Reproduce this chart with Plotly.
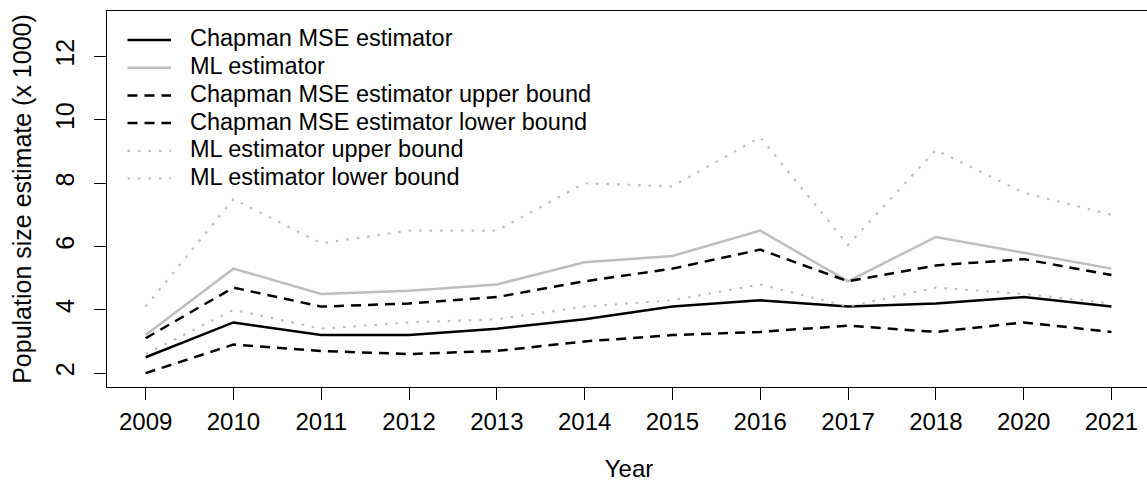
import plotly.graph_objects as go

years = ["2009", "2010", "2011", "2012", "2013", "2014", "2015", "2016", "2017", "2018", "2020", "2021"]
chapman = [2.5, 3.6, 3.2, 3.2, 3.4, 3.7, 4.1, 4.3, 4.1, 4.2, 4.4, 4.1]
ml = [3.2, 5.3, 4.5, 4.6, 4.8, 5.5, 5.7, 6.5, 4.9, 6.3, 5.8, 5.3]
chapman_upper = [3.1, 4.7, 4.1, 4.2, 4.4, 4.9, 5.3, 5.9, 4.9, 5.4, 5.6, 5.1]
chapman_lower = [2.0, 2.9, 2.7, 2.6, 2.7, 3.0, 3.2, 3.3, 3.5, 3.3, 3.6, 3.3]
ml_upper = [4.1, 7.5, 6.1, 6.5, 6.5, 8.0, 7.9, 9.45, 6.05, 9.05, 7.7, 7.0]
ml_lower = [2.6, 4.0, 3.4, 3.6, 3.7, 4.1, 4.3, 4.8, 4.1, 4.7, 4.5, 4.2]

y_ticks = [2, 4, 6, 8, 10, 12]

FONT = "Liberation Sans, Arial, Helvetica, sans-serif"
GRAY = "#BEBEBE"
DASH = "10px,7px"
DOT = "2.5px,8px"

series = [
    ("Chapman MSE estimator", chapman, dict(color="black", width=2.5, dash="solid")),
    ("ML estimator", ml, dict(color=GRAY, width=2.5, dash="solid")),
    ("Chapman MSE estimator upper bound", chapman_upper, dict(color="black", width=2.5, dash=DASH)),
    ("Chapman MSE estimator lower bound", chapman_lower, dict(color="black", width=2.5, dash=DASH)),
    ("ML estimator upper bound", ml_upper, dict(color=GRAY, width=2.2, dash=DOT)),
    ("ML estimator lower bound", ml_lower, dict(color=GRAY, width=2.2, dash=DOT)),
]

# the plot box of the original runs slightly past the right edge of the window
W, H = 1151, 482
ML_, MR_, MT_, MB_ = 107, 0, 11, 95
PW = W - ML_ - MR_
PH = H - MT_ - MB_


def fx(px):
    return (px - ML_) / PW


def fy(py):
    return (H - MB_ - py) / PH


fig = go.Figure()
for name, vals, line in series:
    fig.add_trace(go.Scatter(x=years, y=vals, mode="lines", name=name, line=line,
                             showlegend=False))

# manual legend (R style) in the top-left corner of the plot box
shapes = []
annotations = []
for i, (name, vals, line) in enumerate(series):
    yc = 40 + 27.7 * i
    shapes.append(dict(type="line", xref="paper", yref="paper",
                       x0=fx(127.5), x1=fx(171), y0=fy(yc), y1=fy(yc),
                       line=line))
    annotations.append(dict(xref="paper", yref="paper", x=fx(188), y=fy(yc - 1.5),
                            xanchor="left", yanchor="middle", showarrow=False,
                            text=name, font=dict(family=FONT, size=23.5, color="black")))

fig.update_layout(
    width=W, height=H,
    margin=dict(l=ML_, r=MR_, t=MT_, b=MB_),
    paper_bgcolor="white", plot_bgcolor="white",
    font=dict(family=FONT, size=24, color="black"),
    showlegend=False,
    shapes=shapes,
    annotations=annotations,
)
x_hi = -0.44 + PW / 87.8
fig.update_xaxes(
    type="category", range=[-0.44, x_hi], automargin=False,
    showgrid=False, zeroline=False,
    showline=True, linecolor="black", linewidth=1, mirror=True,
    ticks="outside", ticklen=12, tickwidth=1, tickcolor="black",
    tickfont=dict(family=FONT, size=24),
    ticklabelstandoff=1,
    title=dict(text="Year", font=dict(family=FONT, size=24), standoff=27),
)
fig.update_yaxes(
    range=[1.56, 13.44], automargin=False,
    tickvals=y_ticks, ticktext=[str(v) for v in y_ticks],
    tickangle=-90,
    showgrid=False, zeroline=False,
    showline=True, linecolor="black", linewidth=1, mirror=False,
    ticks="outside", ticklen=12, tickwidth=1, tickcolor="black",
    tickfont=dict(family=FONT, size=25),
    ticklabelstandoff=10,
    title=dict(text="Population size estimate (x 1000)", font=dict(family=FONT, size=25), standoff=12),
)

fig.write_html(
    "out.html",
    config={"displayModeBar": False},
    post_script="document.body.style.margin='0';document.body.style.overflow='hidden';",
)
